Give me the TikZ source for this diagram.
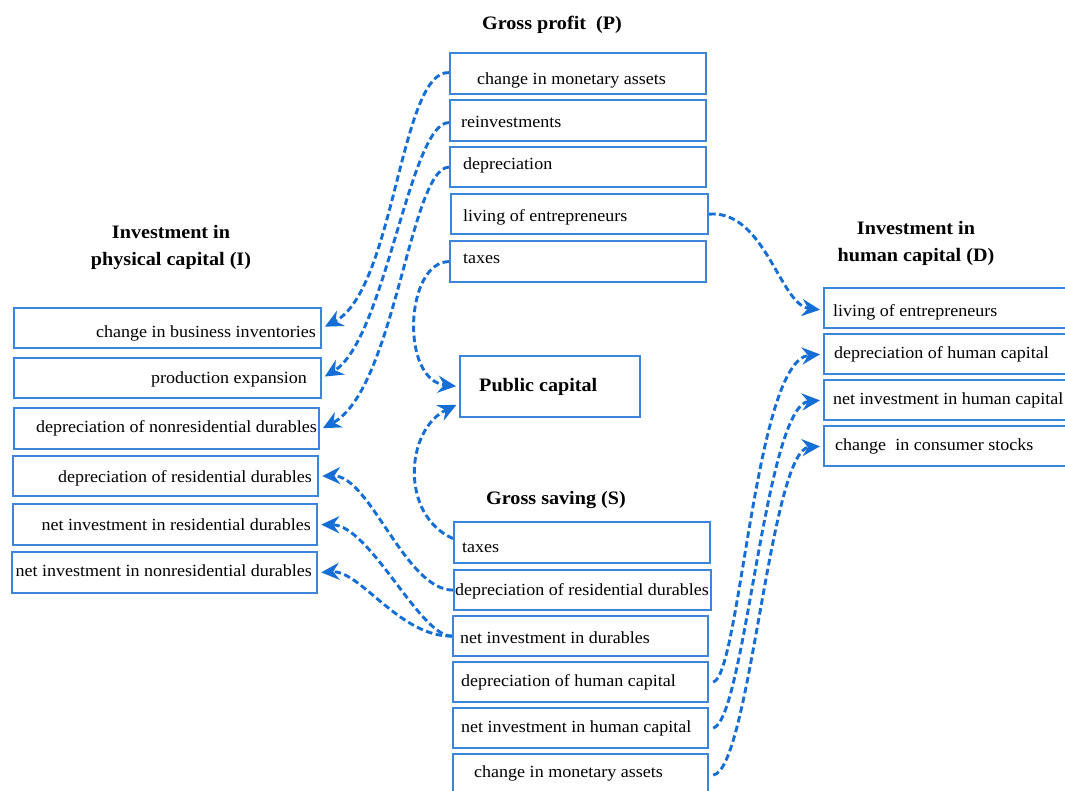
\documentclass[tikz,border=0pt]{standalone}
\usepackage{fontspec}
\setmainfont{Liberation Serif}[FakeStretch=1.06]
\usetikzlibrary{arrows.meta}
\definecolor{boxc}{RGB}{61,133,218}
\definecolor{linec}{RGB}{21,109,214}
\begin{document}
\begin{tikzpicture}[x=1pt,y=-1pt,
  box/.style={draw=boxc,line width=2.2pt,inner sep=0pt,anchor=north west},
  txt/.style={inner sep=0pt,font=\fontsize{17}{20}\selectfont},
  ttl/.style={inner sep=0pt,align=center,font=\fontsize{19}{27}\selectfont\bfseries},
  conn/.style={draw=linec,line width=2.9pt,dash pattern=on 6.5pt off 3.5pt,
     -{Stealth[length=18pt,width=17pt,inset=6pt]},shorten >=3pt}]
\clip (0,0) rectangle (1065,791);
\useasboundingbox (0,0) rectangle (1065,791);
\fill[white] (0,0) rectangle (1065,791);
% titles
\node[ttl] (tp) at (552,25) {Gross profit\ \ (P)};
\node[ttl] (ti) at (171,247) {Investment in\\physical capital (I)};
\node[ttl] (ts) at (556,500) {Gross saving (S)};
\node[ttl] (td) at (916,243) {Investment in\\human capital (D)};
% gross profit boxes
\node[box,minimum width=256,minimum height=41] (p1) at (449,52) {};
\node[box,minimum width=256,minimum height=41] (p2) at (449,99) {};
\node[box,minimum width=256,minimum height=40] (p3) at (449,146) {};
\node[box,minimum width=257,minimum height=40] (p4) at (450,193) {};
\node[box,minimum width=256,minimum height=41] (p5) at (449,240) {};
\node[txt,anchor=west] (p1t) at (477,80) {change in monetary assets};
\node[txt,anchor=west] (p2t) at (461,122) {reinvestments};
\node[txt,anchor=west] (p3t) at (463,165) {depreciation};
\node[txt,anchor=west] (p4t) at (463,217) {living of entrepreneurs};
\node[txt,anchor=west] (p5t) at (463,259) {taxes};
% physical capital boxes
\node[box,minimum width=307,minimum height=40] (l1) at (13,307) {};
\node[box,minimum width=307,minimum height=40] (l2) at (13,357) {};
\node[box,minimum width=305,minimum height=41] (l3) at (13,407) {};
\node[box,minimum width=305,minimum height=40] (l4) at (12,455) {};
\node[box,minimum width=304,minimum height=41] (l5) at (12,503) {};
\node[box,minimum width=305,minimum height=41] (l6) at (11,551) {};
\node[txt,anchor=east] (l1t) at (316,333) {change in business\ inventories};
\node[txt,anchor=east] (l2t) at (307,379) {production expansion};
\node[txt,anchor=east] (l3t) at (317,428) {depreciation\ of\ nonresidential durables};
\node[txt,anchor=east] (l4t) at (312,478) {depreciation\ of\ residential durables};
\node[txt,anchor=east] (l5t) at (311,525) {net investment\ in residential durables};
\node[txt,anchor=east] (l6t) at (312,571) {net investment\ in nonresidential durables};
% public capital
\node[box,minimum width=180,minimum height=61] (pub) at (459,355) {};
\node[ttl,anchor=west] (pubt) at (479,387) {Public capital};
% gross saving boxes
\node[box,minimum width=256,minimum height=41] (b1) at (453,521) {};
\node[box,minimum width=257,minimum height=40] (b2) at (453,569) {};
\node[box,minimum width=255,minimum height=40] (b3) at (452,615) {};
\node[box,minimum width=255,minimum height=40] (b4) at (452,661) {};
\node[box,minimum width=255,minimum height=40] (b5) at (452,707) {};
\node[box,minimum width=255,minimum height=42] (b6) at (452,753) {};
\node[txt,anchor=west] (b1t) at (462,548) {taxes};
\node[txt,anchor=west] (b2t) at (455,591) {depreciation\ of\ residential durables};
\node[txt,anchor=west] (b3t) at (460,638) {net investment\ in durables};
\node[txt,anchor=west] (b4t) at (461,682) {depreciation\ of\ human capital};
\node[txt,anchor=west] (b5t) at (461,728) {net investment in human capital};
\node[txt,anchor=west] (b6t) at (474,773) {change in\ monetary assets};
% human capital boxes
\node[box,minimum width=250,minimum height=40] (r1) at (823,287) {};
\node[box,minimum width=250,minimum height=40] (r2) at (823,333) {};
\node[box,minimum width=250,minimum height=40] (r3) at (823,379) {};
\node[box,minimum width=250,minimum height=40] (r4) at (823,425) {};
\node[txt,anchor=west] (r1t) at (833,312) {living of entrepreneurs};
\node[txt,anchor=west] (r2t) at (834,354) {depreciation\ of\ human capital};
\node[txt,anchor=west] (r3t) at (833,400) {net investment in human capital};
\node[txt,anchor=west] (r4t) at (835,446) {change\ \ in consumer stocks};
% connectors
\draw[conn] ([yshift=1pt]p1.west) .. controls (400,70) and (395,290) .. (l1.east);
\draw[conn] ([yshift=-2pt]p2.west) .. controls (410,122) and (385,340) .. (l2.east);
\draw[conn] (p3.west) .. controls (410,168) and (395,390) .. ([yshift=-1pt]l3.east);
\draw[conn] (p5.west) .. controls (405,262) and (400,380) .. (pub.west);
\draw[conn] ([yshift=4pt]b1.west) .. controls (400,515) and (405,430) .. ([yshift=-17pt]pub.west);
\draw[conn] (p4.east) .. controls (765,210) and (780,305) .. ([yshift=-2pt]r1.west);
\draw[conn] (b2.west) .. controls (405,590) and (370,475) .. (l4.east);
\draw[conn] (b3.west) .. controls (420,637) and (370,525) .. (l5.east);
\draw[conn] (b3.west) .. controls (400,637) and (360,570) .. (l6.east);
\draw[conn] ([xshift=4pt]b4.east) .. controls (740,676) and (755,360) .. (r2.west);
\draw[conn] ([xshift=4pt]b5.east) .. controls (745,720) and (765,405) .. (r3.west);
\draw[conn] ([xshift=4pt]b6.east) .. controls (750,770) and (770,450) .. (r4.west);
\end{tikzpicture}
\end{document}
